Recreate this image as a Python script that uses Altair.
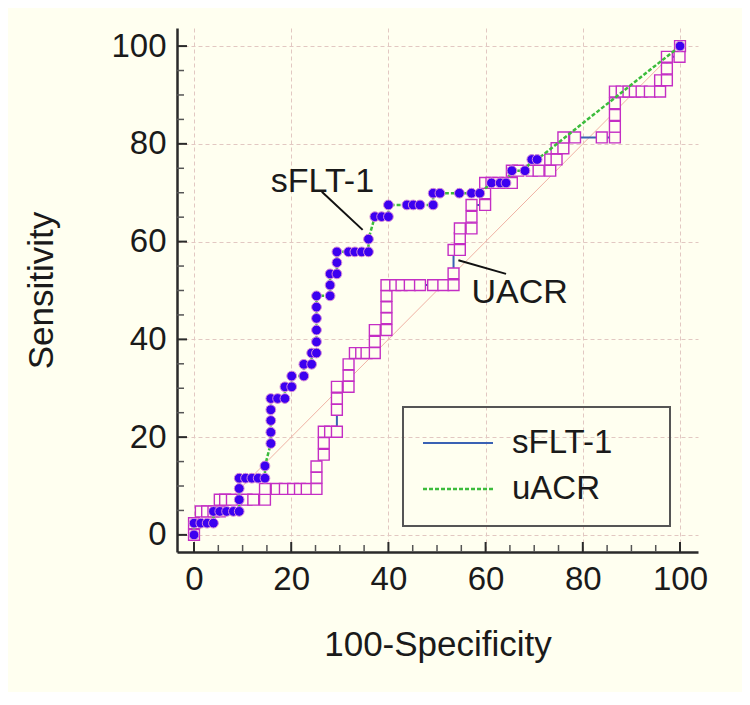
import altair as alt
import pandas as pd

# ---------------- data ----------------
# sFLT-1 ROC curve (100-Specificity, Sensitivity)
sflt_x = [0, 0, 1.4, 2.7, 4.0, 4.0, 5.3, 6.7, 8.1, 9.3, 9.3, 9.3, 9.3, 10.6, 11.9, 13.2, 14.6,
          14.6, 15.8, 15.8, 15.8, 15.8, 15.8, 17.2, 18.7, 18.7, 20.1, 20.1, 22.6, 22.6, 24.2,
          24.2, 25.2, 25.2, 25.2, 25.2, 25.2, 25.2, 28.0, 28.0, 28.0, 29.4, 29.4, 29.4, 31.8,
          33.1, 34.5, 35.9, 35.9, 37.2, 38.6, 40.0, 40.0, 43.8, 45.1, 46.5, 49.2, 49.2, 50.6,
          54.6, 57.1, 58.8, 61.2, 63.0, 64.2, 65.4, 68.1, 69.5, 70.6, 100]
sflt_y = [0, 2.4, 2.4, 2.4, 2.4, 4.8, 4.8, 4.8, 4.8, 4.8, 7.2, 9.5, 11.6, 11.6, 11.6, 11.6, 11.6,
          14.1, 18.7, 21.0, 23.4, 25.6, 27.9, 27.9, 27.9, 30.3, 30.3, 32.5, 32.5, 34.9, 34.9,
          37.2, 37.2, 39.5, 41.9, 44.3, 46.6, 48.9, 48.9, 51.1, 53.4, 53.4, 55.7, 57.9, 57.9,
          57.9, 57.9, 57.9, 60.5, 65.1, 65.1, 65.1, 67.5, 67.5, 67.5, 67.5, 67.5, 69.9, 69.9,
          69.9, 69.9, 69.9, 72.0, 72.0, 72.0, 74.5, 74.5, 76.8, 76.8, 100]

# uACR ROC curve
uacr_x = [0, 0, 1.4, 2.7, 4.0, 5.3, 5.3, 6.4, 7.8, 10.8, 12.2, 14.6, 14.6, 17.0, 18.7, 20.4,
          21.8, 23.2, 25.2, 25.2, 25.2, 26.7, 26.7, 26.7, 28.0, 29.4, 29.4, 29.4, 29.4, 31.8,
          31.8, 31.8, 33.1, 34.4, 35.5, 37.2, 37.2, 37.2, 39.6, 39.6, 39.6, 39.6, 39.6, 41.4,
          42.7, 44.4, 46.5, 49.2, 51.3, 53.4, 53.4, 53.4, 54.7, 54.7, 54.7, 57.1, 57.1, 57.1,
          59.9, 59.9, 59.9, 61.2, 62.5, 64.0, 65.4, 65.4, 66.7, 69.5, 70.9, 73.3, 73.3, 74.6,
          74.6, 76.0, 76.0, 78.4, 83.9, 86.6, 86.6, 86.6, 86.6, 86.6, 88.0, 89.4, 90.7, 92.1,
          93.8, 95.9, 95.9, 97.3, 97.3, 97.3, 99.9, 100]
uacr_y = [0, 2.4, 4.8, 4.8, 4.8, 4.8, 7.2, 7.2, 7.2, 7.2, 7.2, 7.2, 9.4, 9.4, 9.4, 9.4,
          9.4, 9.4, 9.4, 11.7, 14.0, 16.4, 18.8, 21.1, 21.1, 21.1, 25.6, 27.9, 30.3, 30.3,
          32.6, 34.9, 37.2, 37.2, 37.2, 37.2, 39.5, 41.9, 41.9, 44.3, 46.6, 48.9, 51.1, 51.1,
          51.1, 51.1, 51.1, 51.1, 51.1, 51.1, 53.5, 58.3, 58.3, 60.7, 62.7, 62.7, 65.1, 67.5,
          67.5, 69.9, 72.0, 72.0, 72.0, 72.0, 72.0, 74.5, 74.5, 74.5, 74.5, 74.5, 76.8, 76.8,
          79.1, 79.1, 81.3, 81.3, 81.3, 81.3, 83.5, 85.9, 88.3, 90.7, 90.7, 90.7, 90.7, 90.7,
          90.7, 90.7, 93.0, 93.0, 95.4, 97.8, 97.8, 100]

diag_x = [0, 100]
diag_y = [0, 100]

major_ticks = [0, 20, 40, 60, 80, 100]
minor_ticks = [5, 10, 15, 25, 30, 35, 45, 50, 55, 65, 70, 75, 85, 90, 95]

ann_labels = ["sFLT-1", "UACR"]
ann_x = [15.8, 57.1]
ann_y = [70.1, 47.5]
lead_x = [26.3, 54.4]
lead_y = [70.2, 56.2]
lead_x2 = [34.7, 64.2]
lead_y2 = [62.4, 53.4]

legend_labels = ["sFLT-1", "uACR"]
legend_colors = ["#3a62b4", "#3cbc3c"]

# ---------------- styling ----------------
FONT = "Liberation Sans"
TXT = "#1a1a1a"
BG = "#fffff0"
W, H = 521, 524
DOM = [-3.5, 103.7]

xscale = alt.Scale(domain=DOM, nice=False, zero=False)
yscale = alt.Scale(domain=DOM, nice=False, zero=False)

common_axis = dict(values=major_ticks, grid=True, ticks=False, tickSize=0,
                   domainColor="#2a2a2a", domainWidth=2.5,
                   gridColor="#e2c8c2", gridDash=[4, 3], gridWidth=1,
                   labelFont=FONT, labelFontSize=33, labelColor=TXT,
                   titleFont=FONT, titleFontSize=35, titleFontWeight="normal",
                   titleColor=TXT, labelFlush=False, labelOverlap=False, labelPadding=11)
xaxis = alt.Axis(title="100-Specificity", titlePadding=31, **common_axis)
yaxis = alt.Axis(title="Sensitivity", titlePadding=51, **common_axis)


def X(f):
    return alt.X(f, scale=xscale, axis=xaxis)


def Y(f):
    return alt.Y(f, scale=yscale, axis=yaxis)


sflt = pd.DataFrame({"x": sflt_x, "y": sflt_y, "i": range(len(sflt_x))})
uacr = pd.DataFrame({"x": uacr_x, "y": uacr_y, "i": range(len(uacr_x))})
diag = pd.DataFrame({"x": diag_x, "y": diag_y})
majors = pd.DataFrame({"v": major_ticks})
minors = pd.DataFrame({"v": minor_ticks})
ann = pd.DataFrame({"label": ann_labels, "x": ann_x, "y": ann_y})
lead = pd.DataFrame({"x": lead_x, "y": lead_y, "x2": lead_x2, "y2": lead_y2})
leg = pd.DataFrame({"label": legend_labels, "color": legend_colors})

diag_layer = alt.Chart(diag).mark_line(color="#efb2a4", strokeWidth=1).encode(
    x=X("x:Q"), y=Y("y:Q"))

xmaj = alt.Chart(majors).mark_rule(color="#2a2a2a", strokeWidth=2).encode(
    x=X("v:Q"), y=alt.value(H), y2=alt.value(H - 10))
xmin = alt.Chart(minors).mark_rule(color="#555555", strokeWidth=1.5).encode(
    x=X("v:Q"), y=alt.value(H), y2=alt.value(H - 7))
ymaj = alt.Chart(majors).mark_rule(color="#2a2a2a", strokeWidth=2).encode(
    y=Y("v:Q"), x=alt.value(0), x2=alt.value(10))
ymin = alt.Chart(minors).mark_rule(color="#555555", strokeWidth=1.5).encode(
    y=Y("v:Q"), x=alt.value(0), x2=alt.value(7))

uacr_line = alt.Chart(uacr).mark_line(color="#3a62b4", strokeWidth=2).encode(
    x=X("x:Q"), y=Y("y:Q"), order="i:Q")
uacr_pts = alt.Chart(uacr).mark_square(filled=True, fill=BG, stroke="#c42ec4", size=118,
                                       strokeWidth=1.4, opacity=1).encode(
    x=X("x:Q"), y=Y("y:Q"))
sflt_line = alt.Chart(sflt).mark_line(color="#3cbc3c", strokeWidth=2.5,
                                      strokeDash=[4, 2]).encode(
    x=X("x:Q"), y=Y("y:Q"), order="i:Q")
sflt_pts = alt.Chart(sflt).mark_circle(size=95, fill="#3c00f0", stroke="#d68ad6",
                                       strokeWidth=1, opacity=1).encode(
    x=X("x:Q"), y=Y("y:Q"))

ann_text = alt.Chart(ann).mark_text(align="left", baseline="alphabetic", font=FONT,
                                    fontSize=34, color=TXT).encode(
    x=X("x:Q"), y=Y("y:Q"), text="label:N")
ann_lead = alt.Chart(lead).mark_rule(color="#111111", strokeWidth=2).encode(
    x=X("x:Q"), y=Y("y:Q"), x2="x2:Q", y2="y2:Q")

legend_box = alt.Chart(leg.iloc[[0]]).mark_rect(fillOpacity=0, stroke="#555555",
                                                strokeWidth=2).encode(
    x=alt.value(226), x2=alt.value(493), y=alt.value(379), y2=alt.value(498))
legend_layers = [legend_box]
for k in range(len(legend_labels)):
    row = leg.iloc[[k]]
    ypix = 415 + k * 46
    if k == 0:
        sym = alt.Chart(row).mark_rule(color=legend_colors[k], strokeWidth=2)
    else:
        sym = alt.Chart(row).mark_rule(color=legend_colors[k], strokeWidth=2.5,
                                       strokeDash=[4, 2])
    legend_layers.append(sym.encode(x=alt.value(246), x2=alt.value(316), y=alt.value(ypix)))
    legend_layers.append(
        alt.Chart(row).mark_text(align="left", baseline="middle", font=FONT,
                                 fontSize=33, color=TXT).encode(
            x=alt.value(335), y=alt.value(ypix), text="label:N"))

chart = alt.layer(
    diag_layer, xmaj, xmin, ymaj, ymin,
    uacr_line, uacr_pts, sflt_line, sflt_pts,
    ann_lead, ann_text, *legend_layers
).properties(
    width=W, height=H,
    autosize=alt.AutoSizeParams(type="none"),
    padding={"left": 169, "top": 20, "right": 44, "bottom": 140},
    background=BG,
).configure_view(strokeWidth=0)

chart.save("out.html", embed_options={"renderer": "svg", "actions": False})
